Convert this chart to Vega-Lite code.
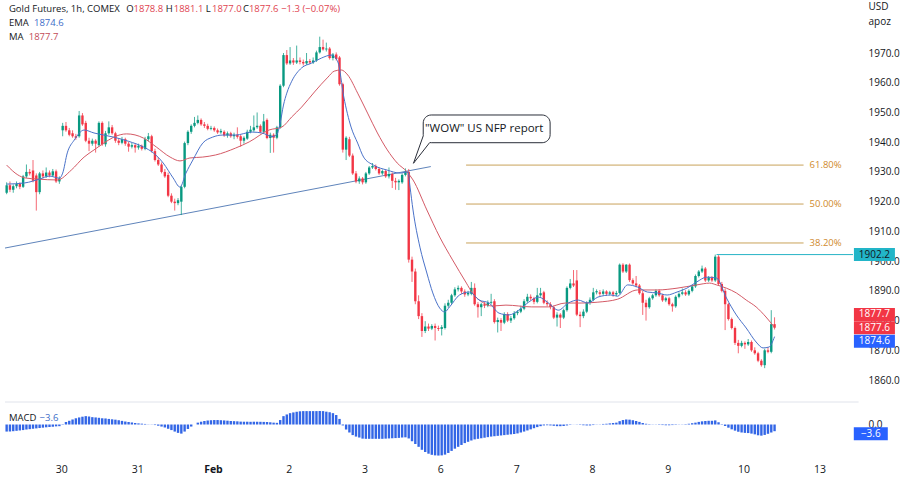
{
"$schema": "https://vega.github.io/schema/vega-lite/v6.json",
"padding": 0,
"spacing": 0,
"background": "white",
"config": {"view": {"stroke": null}, "font": "Open Sans", "axis": {"labelFont": "Open Sans", "labelFontSize": 10, "labelColor": "#131722", "domain": false, "ticks": false, "grid": false, "labelOverlap": false}},
"datasets": {
"c": [
{"i":0,"o":1923.0,"h":1926.5,"l":1922.5,"c":1925.5,"m":-3.8},
{"i":1,"o":1925.5,"h":1926.8,"l":1923.2,"c":1924.0,"m":-3.7},
{"i":2,"o":1924.0,"h":1925.8,"l":1923.0,"c":1925.2,"m":-3.6},
{"i":3,"o":1925.2,"h":1926.8,"l":1924.5,"c":1926.0,"m":-3.4},
{"i":4,"o":1926.0,"h":1926.5,"l":1924.2,"c":1925.0,"m":-3.2},
{"i":5,"o":1925.0,"h":1929.0,"l":1924.6,"c":1928.5,"m":-3.0},
{"i":6,"o":1928.5,"h":1932.5,"l":1928.0,"c":1930.0,"m":-2.7},
{"i":7,"o":1930.0,"h":1931.0,"l":1928.8,"c":1929.5,"m":-2.5},
{"i":8,"o":1930.5,"h":1934.0,"l":1926.5,"c":1927.0,"m":-2.3},
{"i":9,"o":1928.8,"h":1929.5,"l":1917.0,"c":1923.2,"m":-2.1},
{"i":10,"o":1923.2,"h":1930.0,"l":1922.5,"c":1929.5,"m":-1.9},
{"i":11,"o":1929.5,"h":1930.5,"l":1927.8,"c":1928.5,"m":-1.7},
{"i":12,"o":1928.5,"h":1931.5,"l":1928.0,"c":1929.8,"m":-1.5},
{"i":13,"o":1929.8,"h":1930.5,"l":1928.2,"c":1928.8,"m":-1.35},
{"i":14,"o":1928.8,"h":1931.0,"l":1928.3,"c":1930.2,"m":-1.2},
{"i":15,"o":1930.2,"h":1930.8,"l":1926.3,"c":1926.8,"m":-1.0},
{"i":16,"o":1926.8,"h":1928.5,"l":1926.0,"c":1927.8,"m":-0.9},
{"i":17,"o":1944.0,"h":1946.5,"l":1942.0,"c":1945.5,"m":0.2},
{"i":18,"o":1945.5,"h":1946.8,"l":1943.5,"c":1944.0,"m":1.35},
{"i":19,"o":1944.0,"h":1944.8,"l":1942.0,"c":1942.5,"m":2.0},
{"i":20,"o":1943.0,"h":1944.0,"l":1941.5,"c":1942.0,"m":2.7},
{"i":21,"o":1942.0,"h":1942.8,"l":1940.8,"c":1941.5,"m":3.35},
{"i":22,"o":1942.0,"h":1950.5,"l":1941.5,"c":1949.0,"m":3.8},
{"i":23,"o":1949.0,"h":1949.8,"l":1945.5,"c":1946.0,"m":4.2},
{"i":24,"o":1946.5,"h":1947.2,"l":1940.0,"c":1940.5,"m":4.5},
{"i":25,"o":1940.5,"h":1941.5,"l":1937.0,"c":1939.5,"m":4.3},
{"i":26,"o":1939.5,"h":1941.2,"l":1938.8,"c":1940.5,"m":3.95},
{"i":27,"o":1940.5,"h":1941.0,"l":1936.5,"c":1939.5,"m":3.8},
{"i":28,"o":1939.0,"h":1947.0,"l":1938.5,"c":1946.5,"m":3.6},
{"i":29,"o":1946.5,"h":1947.0,"l":1938.8,"c":1939.3,"m":3.35},
{"i":30,"o":1939.3,"h":1943.8,"l":1938.5,"c":1943.0,"m":3.25},
{"i":31,"o":1943.0,"h":1947.0,"l":1942.5,"c":1945.0,"m":3.0},
{"i":32,"o":1945.0,"h":1945.8,"l":1942.5,"c":1943.0,"m":2.8},
{"i":33,"o":1943.0,"h":1943.5,"l":1939.8,"c":1940.5,"m":2.6},
{"i":34,"o":1940.5,"h":1941.3,"l":1939.0,"c":1939.8,"m":2.3},
{"i":35,"o":1939.8,"h":1941.8,"l":1939.3,"c":1941.0,"m":1.95},
{"i":36,"o":1941.0,"h":1941.5,"l":1938.8,"c":1939.5,"m":1.6},
{"i":37,"o":1939.5,"h":1940.2,"l":1936.8,"c":1938.5,"m":1.35},
{"i":38,"o":1938.5,"h":1939.8,"l":1937.9,"c":1939.0,"m":1.1},
{"i":39,"o":1939.0,"h":1939.5,"l":1936.5,"c":1938.2,"m":0.8},
{"i":40,"o":1938.2,"h":1939.5,"l":1937.5,"c":1938.8,"m":0.6},
{"i":41,"o":1938.8,"h":1939.2,"l":1937.2,"c":1937.8,"m":0.45},
{"i":42,"o":1937.8,"h":1941.8,"l":1937.3,"c":1941.0,"m":0.3},
{"i":43,"o":1941.0,"h":1943.1,"l":1940.3,"c":1942.0,"m":0.1},
{"i":44,"o":1942.0,"h":1942.5,"l":1936.5,"c":1937.0,"m":-0.1},
{"i":45,"o":1937.0,"h":1937.8,"l":1933.5,"c":1934.0,"m":-0.3},
{"i":46,"o":1934.0,"h":1935.0,"l":1932.0,"c":1932.5,"m":-0.65},
{"i":47,"o":1932.5,"h":1933.2,"l":1929.5,"c":1930.0,"m":-1.1},
{"i":48,"o":1930.0,"h":1931.0,"l":1928.0,"c":1928.5,"m":-1.6},
{"i":49,"o":1929.0,"h":1929.8,"l":1921.5,"c":1922.0,"m":-2.3},
{"i":50,"o":1922.0,"h":1922.8,"l":1919.5,"c":1920.0,"m":-3.0},
{"i":51,"o":1920.0,"h":1921.0,"l":1917.0,"c":1919.5,"m":-3.8},
{"i":52,"o":1919.5,"h":1921.2,"l":1918.8,"c":1920.5,"m":-4.5},
{"i":53,"o":1920.0,"h":1925.5,"l":1915.5,"c":1925.0,"m":-4.9},
{"i":54,"o":1925.0,"h":1940.2,"l":1924.5,"c":1939.7,"m":-3.8},
{"i":55,"o":1939.7,"h":1944.0,"l":1939.0,"c":1943.5,"m":-2.4},
{"i":56,"o":1943.5,"h":1946.0,"l":1942.8,"c":1945.5,"m":-1.1},
{"i":57,"o":1945.5,"h":1948.5,"l":1945.0,"c":1946.5,"m":0.0},
{"i":58,"o":1946.5,"h":1949.0,"l":1946.0,"c":1947.5,"m":1.0},
{"i":59,"o":1947.5,"h":1948.0,"l":1945.5,"c":1946.0,"m":1.5},
{"i":60,"o":1946.0,"h":1946.8,"l":1944.8,"c":1945.5,"m":1.9},
{"i":61,"o":1945.5,"h":1946.2,"l":1944.0,"c":1944.5,"m":2.15},
{"i":62,"o":1944.5,"h":1945.5,"l":1944.0,"c":1944.8,"m":2.3},
{"i":63,"o":1944.8,"h":1945.3,"l":1943.5,"c":1944.0,"m":2.4},
{"i":64,"o":1944.0,"h":1944.6,"l":1942.8,"c":1943.3,"m":2.4},
{"i":65,"o":1943.3,"h":1944.5,"l":1942.8,"c":1943.8,"m":2.3},
{"i":66,"o":1943.5,"h":1944.0,"l":1941.8,"c":1942.3,"m":2.2},
{"i":67,"o":1942.3,"h":1943.6,"l":1941.5,"c":1943.0,"m":2.05},
{"i":68,"o":1943.0,"h":1943.5,"l":1941.5,"c":1942.0,"m":1.9},
{"i":69,"o":1942.0,"h":1943.2,"l":1941.0,"c":1942.5,"m":1.8},
{"i":70,"o":1942.5,"h":1945.0,"l":1941.2,"c":1941.8,"m":1.7},
{"i":71,"o":1942.0,"h":1942.5,"l":1938.5,"c":1940.5,"m":1.55},
{"i":72,"o":1940.5,"h":1942.0,"l":1939.5,"c":1941.5,"m":1.5},
{"i":73,"o":1941.2,"h":1944.2,"l":1940.8,"c":1943.5,"m":1.5},
{"i":74,"o":1943.5,"h":1945.5,"l":1943.0,"c":1944.2,"m":1.45},
{"i":75,"o":1944.0,"h":1949.0,"l":1943.5,"c":1945.0,"m":1.5},
{"i":76,"o":1945.0,"h":1950.0,"l":1944.5,"c":1945.5,"m":1.5},
{"i":77,"o":1945.5,"h":1946.0,"l":1943.0,"c":1943.5,"m":1.45},
{"i":78,"o":1943.5,"h":1949.5,"l":1943.0,"c":1947.0,"m":1.4},
{"i":79,"o":1947.5,"h":1948.0,"l":1941.0,"c":1941.4,"m":1.35},
{"i":80,"o":1941.4,"h":1943.2,"l":1936.4,"c":1942.5,"m":1.2},
{"i":81,"o":1942.5,"h":1943.0,"l":1936.5,"c":1941.5,"m":1.0},
{"i":82,"o":1941.5,"h":1945.5,"l":1941.0,"c":1945.0,"m":0.9},
{"i":83,"o":1945.0,"h":1959.5,"l":1944.5,"c":1959.0,"m":2.4},
{"i":84,"o":1959.0,"h":1970.0,"l":1958.5,"c":1969.3,"m":4.5},
{"i":85,"o":1969.3,"h":1971.0,"l":1966.0,"c":1966.5,"m":5.4},
{"i":86,"o":1966.5,"h":1972.0,"l":1966.0,"c":1967.5,"m":6.1},
{"i":87,"o":1967.5,"h":1968.3,"l":1966.0,"c":1966.8,"m":6.5},
{"i":88,"o":1966.8,"h":1972.5,"l":1966.3,"c":1967.5,"m":6.85},
{"i":89,"o":1967.5,"h":1968.5,"l":1966.2,"c":1967.0,"m":7.1},
{"i":90,"o":1967.0,"h":1967.8,"l":1965.8,"c":1966.5,"m":7.2},
{"i":91,"o":1966.5,"h":1970.0,"l":1966.0,"c":1967.3,"m":7.2},
{"i":92,"o":1967.3,"h":1968.0,"l":1966.2,"c":1966.8,"m":7.2},
{"i":93,"o":1966.8,"h":1968.5,"l":1966.3,"c":1967.5,"m":7.2},
{"i":94,"o":1967.5,"h":1970.8,"l":1967.0,"c":1970.2,"m":7.2},
{"i":95,"o":1970.2,"h":1975.5,"l":1969.8,"c":1972.0,"m":7.25},
{"i":96,"o":1972.0,"h":1974.5,"l":1970.8,"c":1971.2,"m":7.2},
{"i":97,"o":1971.2,"h":1973.5,"l":1970.5,"c":1971.5,"m":6.9},
{"i":98,"o":1971.5,"h":1972.0,"l":1967.8,"c":1968.3,"m":6.6},
{"i":99,"o":1968.3,"h":1970.0,"l":1967.5,"c":1969.5,"m":6.1},
{"i":100,"o":1969.5,"h":1970.2,"l":1967.5,"c":1968.0,"m":5.1},
{"i":101,"o":1968.5,"h":1969.0,"l":1959.0,"c":1959.5,"m":3.0},
{"i":102,"o":1959.5,"h":1960.0,"l":1936.5,"c":1937.5,"m":-0.5},
{"i":103,"o":1937.5,"h":1942.0,"l":1934.0,"c":1941.5,"m":-2.7},
{"i":104,"o":1941.0,"h":1941.8,"l":1935.0,"c":1935.5,"m":-4.3},
{"i":105,"o":1935.5,"h":1936.2,"l":1929.0,"c":1929.5,"m":-5.7},
{"i":106,"o":1929.5,"h":1930.3,"l":1926.2,"c":1926.8,"m":-6.5},
{"i":107,"o":1926.8,"h":1928.5,"l":1926.0,"c":1927.8,"m":-7.0},
{"i":108,"o":1927.8,"h":1928.3,"l":1925.8,"c":1926.5,"m":-7.6},
{"i":109,"o":1926.5,"h":1930.0,"l":1926.0,"c":1929.5,"m":-7.7},
{"i":110,"o":1929.5,"h":1932.0,"l":1929.0,"c":1931.5,"m":-7.7},
{"i":111,"o":1931.5,"h":1933.0,"l":1931.0,"c":1932.0,"m":-7.7},
{"i":112,"o":1932.0,"h":1932.5,"l":1930.5,"c":1931.0,"m":-7.7},
{"i":113,"o":1931.0,"h":1931.5,"l":1929.0,"c":1929.5,"m":-7.7},
{"i":114,"o":1929.5,"h":1930.8,"l":1929.0,"c":1930.3,"m":-7.7},
{"i":115,"o":1930.3,"h":1930.8,"l":1928.0,"c":1928.5,"m":-7.6},
{"i":116,"o":1928.5,"h":1931.5,"l":1927.8,"c":1929.3,"m":-7.5},
{"i":117,"o":1929.3,"h":1929.8,"l":1924.6,"c":1927.0,"m":-7.4},
{"i":118,"o":1927.0,"h":1928.0,"l":1924.0,"c":1926.5,"m":-7.3},
{"i":119,"o":1926.5,"h":1927.5,"l":1923.9,"c":1927.0,"m":-7.2},
{"i":120,"o":1926.5,"h":1929.5,"l":1926.0,"c":1929.0,"m":-7.0},
{"i":121,"o":1929.0,"h":1931.2,"l":1928.5,"c":1930.0,"m":-6.9},
{"i":122,"o":1930.0,"h":1931.0,"l":1899.5,"c":1900.5,"m":-7.5},
{"i":123,"o":1900.5,"h":1901.5,"l":1893.0,"c":1896.5,"m":-9.0},
{"i":124,"o":1896.5,"h":1897.5,"l":1885.5,"c":1886.5,"m":-10.5},
{"i":125,"o":1886.5,"h":1888.5,"l":1880.5,"c":1881.5,"m":-12.0},
{"i":126,"o":1881.5,"h":1882.5,"l":1874.5,"c":1876.5,"m":-13.6},
{"i":127,"o":1876.5,"h":1879.8,"l":1875.8,"c":1878.0,"m":-14.8},
{"i":128,"o":1878.0,"h":1879.0,"l":1876.5,"c":1877.3,"m":-15.7},
{"i":129,"o":1877.3,"h":1878.8,"l":1876.8,"c":1878.2,"m":-16.3},
{"i":130,"o":1878.2,"h":1879.0,"l":1873.3,"c":1877.5,"m":-16.6},
{"i":131,"o":1877.5,"h":1878.3,"l":1876.5,"c":1877.2,"m":-16.7},
{"i":132,"o":1877.2,"h":1878.5,"l":1875.0,"c":1877.8,"m":-16.6},
{"i":133,"o":1877.5,"h":1885.8,"l":1877.0,"c":1885.0,"m":-16.2},
{"i":134,"o":1885.0,"h":1887.0,"l":1884.3,"c":1886.0,"m":-15.3},
{"i":135,"o":1886.0,"h":1889.0,"l":1885.5,"c":1888.5,"m":-14.2},
{"i":136,"o":1888.5,"h":1891.2,"l":1888.0,"c":1890.5,"m":-13.0},
{"i":137,"o":1890.5,"h":1891.8,"l":1889.8,"c":1891.0,"m":-12.0},
{"i":138,"o":1891.0,"h":1891.5,"l":1889.0,"c":1889.8,"m":-11.0},
{"i":139,"o":1889.8,"h":1890.5,"l":1888.0,"c":1888.8,"m":-10.0},
{"i":140,"o":1888.8,"h":1890.0,"l":1888.2,"c":1889.3,"m":-9.3},
{"i":141,"o":1889.0,"h":1893.0,"l":1888.5,"c":1891.0,"m":-8.6},
{"i":142,"o":1891.0,"h":1892.5,"l":1885.0,"c":1885.5,"m":-8.0},
{"i":143,"o":1885.5,"h":1886.2,"l":1881.0,"c":1884.5,"m":-7.7},
{"i":144,"o":1884.5,"h":1886.0,"l":1881.5,"c":1885.5,"m":-7.4},
{"i":145,"o":1885.5,"h":1886.3,"l":1884.2,"c":1885.0,"m":-7.1},
{"i":146,"o":1885.0,"h":1886.8,"l":1884.5,"c":1886.0,"m":-6.8},
{"i":147,"o":1886.0,"h":1889.0,"l":1885.5,"c":1886.3,"m":-6.5},
{"i":148,"o":1886.5,"h":1887.2,"l":1879.0,"c":1879.5,"m":-6.3},
{"i":149,"o":1879.5,"h":1881.0,"l":1876.0,"c":1880.2,"m":-6.1},
{"i":150,"o":1880.2,"h":1880.8,"l":1876.5,"c":1879.3,"m":-5.9},
{"i":151,"o":1879.3,"h":1882.8,"l":1878.8,"c":1882.2,"m":-5.7},
{"i":152,"o":1882.2,"h":1882.8,"l":1879.5,"c":1880.0,"m":-5.5},
{"i":153,"o":1880.0,"h":1881.5,"l":1879.2,"c":1880.8,"m":-5.3},
{"i":154,"o":1880.8,"h":1883.2,"l":1880.3,"c":1882.5,"m":-5.1},
{"i":155,"o":1882.5,"h":1883.5,"l":1881.8,"c":1883.0,"m":-4.8},
{"i":156,"o":1883.0,"h":1885.0,"l":1882.5,"c":1884.0,"m":-4.3},
{"i":157,"o":1884.0,"h":1887.2,"l":1883.5,"c":1886.5,"m":-3.8},
{"i":158,"o":1886.5,"h":1889.0,"l":1886.0,"c":1888.0,"m":-3.2},
{"i":159,"o":1888.0,"h":1888.8,"l":1886.8,"c":1887.5,"m":-2.6},
{"i":160,"o":1887.5,"h":1888.0,"l":1885.5,"c":1886.3,"m":-2.0},
{"i":161,"o":1886.3,"h":1891.0,"l":1885.8,"c":1888.5,"m":-1.4},
{"i":162,"o":1888.5,"h":1891.0,"l":1888.0,"c":1889.2,"m":-0.9},
{"i":163,"o":1889.5,"h":1890.0,"l":1885.5,"c":1886.0,"m":-0.5},
{"i":164,"o":1886.0,"h":1886.8,"l":1884.8,"c":1885.5,"m":-0.4},
{"i":165,"o":1885.5,"h":1886.2,"l":1883.8,"c":1884.5,"m":-0.5},
{"i":166,"o":1884.5,"h":1885.0,"l":1880.5,"c":1881.0,"m":-0.7},
{"i":167,"o":1881.0,"h":1882.8,"l":1878.0,"c":1882.0,"m":-0.9},
{"i":168,"o":1882.0,"h":1882.5,"l":1877.5,"c":1881.0,"m":-0.9},
{"i":169,"o":1881.0,"h":1884.0,"l":1880.5,"c":1883.5,"m":-0.8},
{"i":170,"o":1883.5,"h":1891.5,"l":1883.0,"c":1891.0,"m":-0.5},
{"i":171,"o":1891.0,"h":1894.0,"l":1890.5,"c":1892.5,"m":-0.2},
{"i":172,"o":1892.5,"h":1897.0,"l":1891.3,"c":1891.8,"m":0.05},
{"i":173,"o":1893.5,"h":1897.0,"l":1881.5,"c":1882.0,"m":0.1},
{"i":174,"o":1882.0,"h":1883.0,"l":1877.8,"c":1881.5,"m":-0.2},
{"i":175,"o":1881.5,"h":1883.8,"l":1880.8,"c":1883.0,"m":-0.4},
{"i":176,"o":1883.0,"h":1886.5,"l":1882.5,"c":1886.0,"m":-0.5},
{"i":177,"o":1886.0,"h":1887.8,"l":1885.3,"c":1887.0,"m":-0.5},
{"i":178,"o":1887.0,"h":1891.0,"l":1886.5,"c":1889.5,"m":-0.3},
{"i":179,"o":1889.5,"h":1890.5,"l":1888.8,"c":1889.9,"m":-0.1},
{"i":180,"o":1889.5,"h":1890.3,"l":1888.3,"c":1889.0,"m":0.1},
{"i":181,"o":1889.0,"h":1890.5,"l":1888.5,"c":1889.8,"m":0.3},
{"i":182,"o":1889.8,"h":1890.2,"l":1888.3,"c":1889.0,"m":0.4},
{"i":183,"o":1889.0,"h":1890.0,"l":1888.5,"c":1889.5,"m":0.6},
{"i":184,"o":1889.5,"h":1890.0,"l":1888.0,"c":1888.8,"m":0.8},
{"i":185,"o":1888.8,"h":1890.0,"l":1888.2,"c":1889.3,"m":1.0},
{"i":186,"o":1889.3,"h":1899.2,"l":1888.8,"c":1898.8,"m":1.8},
{"i":187,"o":1898.8,"h":1899.3,"l":1896.0,"c":1896.5,"m":2.4},
{"i":188,"o":1896.5,"h":1899.0,"l":1896.0,"c":1898.8,"m":2.7},
{"i":189,"o":1898.8,"h":1899.2,"l":1893.0,"c":1893.6,"m":2.6},
{"i":190,"o":1893.6,"h":1894.2,"l":1892.0,"c":1892.5,"m":2.3},
{"i":191,"o":1892.5,"h":1895.0,"l":1891.2,"c":1891.8,"m":1.9},
{"i":192,"o":1891.8,"h":1892.3,"l":1888.7,"c":1889.2,"m":1.4},
{"i":193,"o":1889.2,"h":1890.0,"l":1881.9,"c":1886.0,"m":0.8},
{"i":194,"o":1886.0,"h":1887.0,"l":1880.0,"c":1884.5,"m":0.4},
{"i":195,"o":1884.5,"h":1888.0,"l":1884.0,"c":1887.5,"m":0.2},
{"i":196,"o":1887.5,"h":1889.0,"l":1887.0,"c":1888.5,"m":0.1},
{"i":197,"o":1888.5,"h":1890.5,"l":1888.0,"c":1890.0,"m":-0.1},
{"i":198,"o":1890.0,"h":1890.5,"l":1888.0,"c":1888.5,"m":-0.2},
{"i":199,"o":1888.5,"h":1889.0,"l":1886.3,"c":1886.8,"m":-0.3},
{"i":200,"o":1886.8,"h":1888.0,"l":1886.2,"c":1887.5,"m":-0.4},
{"i":201,"o":1887.5,"h":1888.0,"l":1885.0,"c":1885.5,"m":-0.4},
{"i":202,"o":1885.5,"h":1886.0,"l":1883.0,"c":1884.8,"m":-0.3},
{"i":203,"o":1884.8,"h":1888.5,"l":1884.3,"c":1888.0,"m":-0.2},
{"i":204,"o":1888.0,"h":1889.5,"l":1887.5,"c":1889.0,"m":-0.1},
{"i":205,"o":1889.0,"h":1890.8,"l":1888.5,"c":1889.5,"m":0.1},
{"i":206,"o":1889.5,"h":1890.2,"l":1888.3,"c":1888.8,"m":0.2},
{"i":207,"o":1888.8,"h":1890.5,"l":1888.3,"c":1890.0,"m":0.4},
{"i":208,"o":1890.0,"h":1892.0,"l":1889.5,"c":1891.5,"m":0.7},
{"i":209,"o":1891.5,"h":1895.5,"l":1891.0,"c":1895.0,"m":1.0},
{"i":210,"o":1895.0,"h":1897.0,"l":1894.5,"c":1896.5,"m":1.4},
{"i":211,"o":1896.5,"h":1898.5,"l":1896.0,"c":1897.5,"m":1.7},
{"i":212,"o":1897.5,"h":1898.0,"l":1893.0,"c":1893.5,"m":1.9},
{"i":213,"o":1893.5,"h":1895.0,"l":1893.0,"c":1894.5,"m":2.0},
{"i":214,"o":1894.5,"h":1895.0,"l":1893.0,"c":1893.5,"m":2.0},
{"i":215,"o":1893.5,"h":1902.2,"l":1893.0,"c":1901.5,"m":2.2},
{"i":216,"o":1901.5,"h":1902.0,"l":1891.8,"c":1892.3,"m":1.2},
{"i":217,"o":1892.3,"h":1893.0,"l":1889.5,"c":1890.0,"m":0.2},
{"i":218,"o":1890.0,"h":1890.8,"l":1876.8,"c":1885.5,"m":-0.8},
{"i":219,"o":1885.5,"h":1886.0,"l":1880.0,"c":1880.5,"m":-1.7},
{"i":220,"o":1880.5,"h":1881.0,"l":1877.0,"c":1877.5,"m":-2.6},
{"i":221,"o":1877.5,"h":1878.0,"l":1871.8,"c":1872.5,"m":-3.3},
{"i":222,"o":1872.5,"h":1873.5,"l":1869.0,"c":1871.5,"m":-3.9},
{"i":223,"o":1871.5,"h":1873.2,"l":1871.0,"c":1872.5,"m":-4.3},
{"i":224,"o":1872.5,"h":1873.0,"l":1870.5,"c":1872.0,"m":-4.5},
{"i":225,"o":1872.0,"h":1873.8,"l":1871.5,"c":1872.8,"m":-4.6},
{"i":226,"o":1872.8,"h":1873.3,"l":1869.5,"c":1870.0,"m":-4.9},
{"i":227,"o":1870.0,"h":1871.0,"l":1868.5,"c":1869.0,"m":-5.3},
{"i":228,"o":1869.0,"h":1869.5,"l":1866.0,"c":1866.5,"m":-5.8},
{"i":229,"o":1866.5,"h":1867.0,"l":1864.5,"c":1865.0,"m":-6.0},
{"i":230,"o":1865.0,"h":1870.5,"l":1864.0,"c":1870.0,"m":-5.6},
{"i":231,"o":1870.0,"h":1871.0,"l":1869.0,"c":1869.5,"m":-5.0},
{"i":232,"o":1869.5,"h":1883.5,"l":1869.0,"c":1878.8,"m":-4.3},
{"i":233,"o":1878.8,"h":1881.1,"l":1877.0,"c":1877.6,"m":-3.6}
],
"ema": [
{"i":0,"p":1925.9},{"i":5.5,"p":1926.3},{"i":10,"p":1927.6},{"i":13,"p":1928.6},{"i":16,"p":1927.9},{"i":17,"p":1929.6},{"i":18.4,"p":1936.4},{"i":20.5,"p":1940.7},{"i":23.5,"p":1944.1},{"i":26.5,"p":1943.1},{"i":29.5,"p":1942.4},{"i":32.5,"p":1941.7},{"i":37,"p":1940.3},{"i":41.5,"p":1938.4},{"i":44.5,"p":1936.4},{"i":47.5,"p":1933.0},{"i":50.5,"p":1928.0},{"i":52.6,"p":1924.9},{"i":54.4,"p":1929.6},{"i":56.5,"p":1934.0},{"i":59.5,"p":1939.7},{"i":62.5,"p":1941.7},{"i":65.5,"p":1942.4},{"i":69.4,"p":1942.4},{"i":74.5,"p":1943.4},{"i":77.5,"p":1943.1},{"i":80.5,"p":1941.9},{"i":82,"p":1942.6},{"i":83,"p":1946.5},{"i":84,"p":1952.5},{"i":85,"p":1956.5},{"i":86.5,"p":1960.5},{"i":89.5,"p":1965.0},{"i":92.5,"p":1966.6},{"i":95.5,"p":1968.3},{"i":98.5,"p":1969.3},{"i":100.5,"p":1967.0},{"i":102.3,"p":1955.2},{"i":104.5,"p":1945.1},{"i":106.5,"p":1939.7},{"i":108.3,"p":1935.0},{"i":111.3,"p":1932.3},{"i":115.5,"p":1930.6},{"i":119.4,"p":1929.6},{"i":121.8,"p":1930.0},{"i":122.4,"p":1924.9},{"i":123.3,"p":1917.2},{"i":125.4,"p":1904.7},{"i":127.5,"p":1896.0},{"i":129.3,"p":1889.3},{"i":131.4,"p":1884.2},{"i":132.9,"p":1882.9},{"i":134.4,"p":1884.6},{"i":137.4,"p":1888.6},{"i":140.4,"p":1889.6},{"i":143.4,"p":1886.9},{"i":146.4,"p":1885.9},{"i":149.4,"p":1882.5},{"i":152.4,"p":1881.9},{"i":155.4,"p":1883.5},{"i":158.4,"p":1886.2},{"i":161.4,"p":1887.9},{"i":164.4,"p":1885.9},{"i":167.4,"p":1883.5},{"i":170.4,"p":1885.9},{"i":173.4,"p":1886.9},{"i":176.4,"p":1885.9},{"i":179.4,"p":1887.9},{"i":183.3,"p":1888.6},{"i":185.4,"p":1888.2},{"i":188.4,"p":1892.0},{"i":191.4,"p":1891.3},{"i":194.4,"p":1889.6},{"i":197.4,"p":1889.3},{"i":200.4,"p":1888.6},{"i":203.4,"p":1889.6},{"i":206.4,"p":1890.9},{"i":209.4,"p":1893.0},{"i":212.4,"p":1894.6},{"i":215.4,"p":1894.3},{"i":218.4,"p":1887.6},{"i":221.4,"p":1881.9},{"i":224.4,"p":1877.5},{"i":227.4,"p":1872.8},{"i":229.5,"p":1870.8},{"i":231.3,"p":1871.1},{"i":233,"p":1874.6}
],
"ma": [
{"i":0,"p":1932.3},{"i":3.4,"p":1929.0},{"i":5.5,"p":1928.0},{"i":9.4,"p":1927.6},{"i":15.4,"p":1927.3},{"i":19.6,"p":1930.6},{"i":23.5,"p":1935.0},{"i":26.5,"p":1937.4},{"i":29.5,"p":1939.7},{"i":32.5,"p":1941.7},{"i":36.4,"p":1942.8},{"i":41.5,"p":1941.4},{"i":45.4,"p":1938.4},{"i":49.6,"p":1935.0},{"i":52.6,"p":1933.7},{"i":55.6,"p":1934.7},{"i":59.5,"p":1935.0},{"i":63.4,"p":1935.7},{"i":69.4,"p":1938.0},{"i":73.6,"p":1940.1},{"i":79.6,"p":1944.1},{"i":83.5,"p":1945.1},{"i":86.5,"p":1948.5},{"i":89.5,"p":1951.8},{"i":93.4,"p":1956.9},{"i":97.5,"p":1961.9},{"i":99.4,"p":1963.9},{"i":101.5,"p":1964.3},{"i":103.5,"p":1962.6},{"i":106.5,"p":1956.5},{"i":109.5,"p":1949.8},{"i":112.5,"p":1943.1},{"i":115.5,"p":1937.4},{"i":118.5,"p":1933.0},{"i":121.5,"p":1930.0},{"i":123.3,"p":1927.3},{"i":127.5,"p":1917.2},{"i":131.4,"p":1908.1},{"i":135.3,"p":1900.4},{"i":139.5,"p":1892.6},{"i":141.3,"p":1889.3},{"i":144.3,"p":1886.2},{"i":147.3,"p":1884.9},{"i":151.5,"p":1885.2},{"i":159.3,"p":1884.6},{"i":164.4,"p":1884.6},{"i":169.5,"p":1885.9},{"i":174.3,"p":1885.9},{"i":179.4,"p":1886.2},{"i":185.4,"p":1887.2},{"i":191.4,"p":1890.3},{"i":197.4,"p":1890.3},{"i":203.4,"p":1890.9},{"i":209.4,"p":1892.0},{"i":213.3,"p":1892.6},{"i":215.4,"p":1892.0},{"i":218.4,"p":1890.9},{"i":221.4,"p":1889.3},{"i":224.4,"p":1886.9},{"i":227.4,"p":1884.6},{"i":230.4,"p":1881.2},{"i":233,"p":1877.7}
]
},
"vconcat": [
{
"width": 858,
"height": 401,
"encoding": {
"x": {"field": "i", "type": "quantitative", "scale": {"domain": [-0.5, 256.8], "nice": false, "zero": false}, "axis": null},
"y": {"field": "p", "type": "quantitative", "scale": {"domain": [1852.95, 1987.83], "nice": false, "zero": false},
"axis": {"orient": "right", "values": [1860,1870,1880,1890,1900,1910,1920,1930,1940,1950,1960,1970], "format": ".1f", "labelPadding": 10, "labelOverlap": false, "title": ["USD", "apoz"], "titleAngle": 0, "titleAlign": "left", "titleBaseline": "top", "titleX": 10, "titleY": 1, "titleFontSize": 10, "titleFontWeight": "normal", "titleColor": "#131722", "titleLineHeight": 15, "titleFont": "Open Sans"}}
},
"layer": [
{
"data": {"values": [{"i": -0.5, "p": 1904.4}, {"i": 128.7, "p": 1931.8}]},
"mark": {"type": "line", "color": "#5f84bb", "strokeWidth": 1}
},
{
"data": {"values": [{"i": 139.4, "i2": 241.8, "p": 1932.3}, {"i": 139.4, "i2": 241.8, "p": 1919.2}, {"i": 139.4, "i2": 241.8, "p": 1906.1}]},
"mark": {"type": "rule", "color": "#c9a25a", "strokeWidth": 1},
"encoding": {"x2": {"field": "i2"}}
},
{
"data": {"values": [{"i": 241.8, "p": 1932.3, "t": "61.80%"}, {"i": 241.8, "p": 1919.2, "t": "50.00%"}, {"i": 241.8, "p": 1906.1, "t": "38.20%"}]},
"mark": {"type": "text", "color": "#cf8a2e", "fontSize": 9.5, "align": "left", "baseline": "middle", "dx": 6},
"encoding": {"text": {"field": "t"}}
},
{
"data": {"values": [{"i": 215.4, "i2": 256.8, "p": 1902.2}]},
"mark": {"type": "rule", "color": "#26b3c6", "strokeWidth": 1},
"encoding": {"x2": {"field": "i2"}}
},
{
"data": {"name": "c"},
"mark": {"type": "rule", "strokeWidth": 1, "opacity": 0.75},
"encoding": {
"y": {"field": "l", "type": "quantitative", "scale": {"domain": [1852.95, 1987.83], "nice": false, "zero": false},
"axis": {"orient": "right", "values": [1860,1870,1880,1890,1900,1910,1920,1930,1940,1950,1960,1970], "format": ".1f", "labelPadding": 10, "labelOverlap": false, "title": ["USD", "apoz"], "titleAngle": 0, "titleAlign": "left", "titleBaseline": "top", "titleX": 10, "titleY": 1, "titleFontSize": 10, "titleFontWeight": "normal", "titleColor": "#131722", "titleLineHeight": 15, "titleFont": "Open Sans"}},
"y2": {"field": "h"},
"color": {"condition": {"test": "datum.c >= datum.o", "value": "#089981"}, "value": "#f23645"}
}
},
{
"data": {"name": "c"},
"mark": {"type": "bar", "size": 2.4},
"encoding": {
"y": {"field": "o", "type": "quantitative", "scale": {"domain": [1852.95, 1987.83], "nice": false, "zero": false},
"axis": {"orient": "right", "values": [1860,1870,1880,1890,1900,1910,1920,1930,1940,1950,1960,1970], "format": ".1f", "labelPadding": 10, "labelOverlap": false, "title": ["USD", "apoz"], "titleAngle": 0, "titleAlign": "left", "titleBaseline": "top", "titleX": 10, "titleY": 1, "titleFontSize": 10, "titleFontWeight": "normal", "titleColor": "#131722", "titleLineHeight": 15, "titleFont": "Open Sans"}},
"y2": {"field": "c"},
"color": {"condition": {"test": "datum.c >= datum.o", "value": "#089981"}, "value": "#f23645"}
}
},
{
"data": {"name": "ma"},
"mark": {"type": "line", "color": "#d45a66", "strokeWidth": 1, "interpolate": "monotone"}
},
{
"data": {"name": "ema"},
"mark": {"type": "line", "color": "#4a72c9", "strokeWidth": 1, "interpolate": "monotone"}
},
{
"data": {"values": [{"i": 126.4, "i2": 164.9, "p": 1949.15, "p2": 1939.83}]},
"mark": {"type": "rect", "fill": "white", "stroke": "#2a2e39", "strokeWidth": 1, "cornerRadius": 8},
"encoding": {"x2": {"field": "i2"}, "y2": {"field": "p2"}}
},
{
"data": {"values": [{"i": 126.2, "i2": 128.33, "p": 1942.25, "p2": 1939.56}]},
"mark": {"type": "rect", "fill": "white"},
"encoding": {"x2": {"field": "i2"}, "y2": {"field": "p2"}}
},
{
"data": {"values": [{"i": 126.44, "p": 1942.25, "k": 0}, {"i": 123.44, "p": 1932.9, "k": 1}, {"i": 128.33, "p": 1939.83, "k": 2}]},
"mark": {"type": "line", "color": "#2a2e39", "strokeWidth": 1},
"encoding": {"order": {"field": "k"}}
},
{
"data": {"values": [{"i": 144.9, "p": 1944.6, "t": "\"WOW\" US NFP report"}]},
"mark": {"type": "text", "fontSize": 11.5, "color": "#131722", "align": "center", "baseline": "middle"},
"encoding": {"text": {"field": "t"}}
},
{
"data": {"values": [
{"i": 0.7, "p": 1984.8, "t": "Gold Futures, 1h, COMEX", "r": "name"},
{"i": 36.3, "p": 1984.8, "t": "O", "r": "name"},
{"i": 38.5, "p": 1984.8, "t": "1878.8", "r": "price"},
{"i": 48.3, "p": 1984.8, "t": "H", "r": "name"},
{"i": 50.7, "p": 1984.8, "t": "1881.1", "r": "price"},
{"i": 60.4, "p": 1984.8, "t": "L", "r": "name"},
{"i": 62.3, "p": 1984.8, "t": "1877.0", "r": "price"},
{"i": 71.7, "p": 1984.8, "t": "C", "r": "name"},
{"i": 73.5, "p": 1984.8, "t": "1877.6", "r": "price"},
{"i": 83.3, "p": 1984.8, "t": "−1.3 (−0.07%)", "r": "price"},
{"i": 0.7, "p": 1980.1, "t": "EMA", "r": "name"},
{"i": 8.3, "p": 1980.1, "t": "1874.6", "r": "ema"},
{"i": 0.7, "p": 1975.5, "t": "MA", "r": "name"},
{"i": 6.7, "p": 1975.5, "t": "1877.7", "r": "ma"}
]},
"mark": {"type": "text", "fontSize": 9.5, "align": "left", "baseline": "middle"},
"encoding": {
"text": {"field": "t"},
"color": {"condition": [{"test": "datum.r == 'price'", "value": "#e0434f"}, {"test": "datum.r == 'ema'", "value": "#3d6cc8"}, {"test": "datum.r == 'ma'", "value": "#c24c58"}], "value": "#131722"}
}
},
{
"data": {"values": [{"i": 263.3, "p": 1902.2}]},
"mark": {"type": "tick", "orient": "horizontal", "size": 41, "thickness": 13, "opacity": 1, "color": "#22b5c8"}
},
{
"data": {"values": [{"i": 263.3, "p": 1902.2, "t": "1902.2"}]},
"mark": {"type": "text", "fontSize": 10, "baseline": "middle", "align": "center", "color": "#131722"},
"encoding": {"text": {"field": "t"}}
},
{
"data": {"values": [{"i": 263.3, "p": 1877.7}]},
"mark": {"type": "tick", "orient": "horizontal", "size": 41, "thickness": 13, "opacity": 1, "color": "#f23645", "yOffset": -13}
},
{
"data": {"values": [{"i": 263.3, "p": 1877.7, "t": "1877.7"}]},
"mark": {"type": "text", "fontSize": 10, "baseline": "middle", "align": "center", "color": "white", "yOffset": -13},
"encoding": {"text": {"field": "t"}}
},
{
"data": {"values": [{"i": 263.3, "p": 1877.6}]},
"mark": {"type": "tick", "orient": "horizontal", "size": 41, "thickness": 13, "opacity": 1, "color": "#f23645"}
},
{
"data": {"values": [{"i": 263.3, "p": 1877.6, "t": "1877.6"}]},
"mark": {"type": "text", "fontSize": 10, "baseline": "middle", "align": "center", "color": "white"},
"encoding": {"text": {"field": "t"}}
},
{
"data": {"values": [{"i": 263.3, "p": 1874.6}]},
"mark": {"type": "tick", "orient": "horizontal", "size": 41, "thickness": 13, "opacity": 1, "color": "#2962ff", "yOffset": 4.5}
},
{
"data": {"values": [{"i": 263.3, "p": 1874.6, "t": "1874.6"}]},
"mark": {"type": "text", "fontSize": 10, "baseline": "middle", "align": "center", "color": "white", "yOffset": 4.5},
"encoding": {"text": {"field": "t"}}
}
]
},
{
"width": 858,
"height": 57,
"encoding": {
"x": {"field": "i", "type": "quantitative", "scale": {"domain": [-0.5, 256.8], "nice": false, "zero": false},
"axis": {"orient": "bottom", "values": [16.6, 39.6, 62.6, 85.6, 108.6, 131.6, 154.6, 177.6, 200.6, 223.6, 246.6], "labelExpr": "['30','31','Feb','2','3','6','7','8','9','10','13'][round((datum.value-16.6)/23)]", "title": null, "labelPadding": 5, "labelFontSize": 10.5, "labelFontWeight": {"condition": {"test": "datum.value > 62 && datum.value < 63", "value": "bold"}, "value": "normal"}}},
"y": {"field": "m", "type": "quantitative", "scale": {"domain": [-18.55, 12.1], "nice": false, "zero": false},
"axis": {"orient": "right", "values": [0], "format": ".1f", "labelPadding": 10, "title": null}}
},
"layer": [
{
"data": {"name": "c"},
"mark": {"type": "bar", "size": 2.4, "color": "#3366e6"},
"encoding": {"y2": {"datum": 0}}
},
{
"data": {"values": [{"i": -0.5, "i2": 258.5, "m": 12.1}]},
"mark": {"type": "rule", "color": "#e0e3eb", "strokeWidth": 1},
"encoding": {"x2": {"field": "i2"}}
},
{
"data": {"values": [{"i": 0.7, "m": 3.5, "t": "MACD", "r": "name"}, {"i": 10.0, "m": 3.5, "t": "−3.6", "r": "ema"}]},
"mark": {"type": "text", "fontSize": 9.5, "align": "left", "baseline": "middle"},
"encoding": {
"text": {"field": "t"},
"color": {"condition": {"test": "datum.r == 'ema'", "value": "#3d6cc8"}, "value": "#131722"}
}
},
{
"data": {"values": [{"i": 262.2, "m": -3.6}]},
"mark": {"type": "tick", "orient": "horizontal", "size": 34, "thickness": 13, "opacity": 1, "color": "#2962ff", "yOffset": 2.5}
},
{
"data": {"values": [{"i": 262.2, "m": -3.6, "t": "−3.6"}]},
"mark": {"type": "text", "fontSize": 10, "baseline": "middle", "align": "center", "color": "white", "yOffset": 2.5},
"encoding": {"text": {"field": "t"}}
}
]
}
]
}
